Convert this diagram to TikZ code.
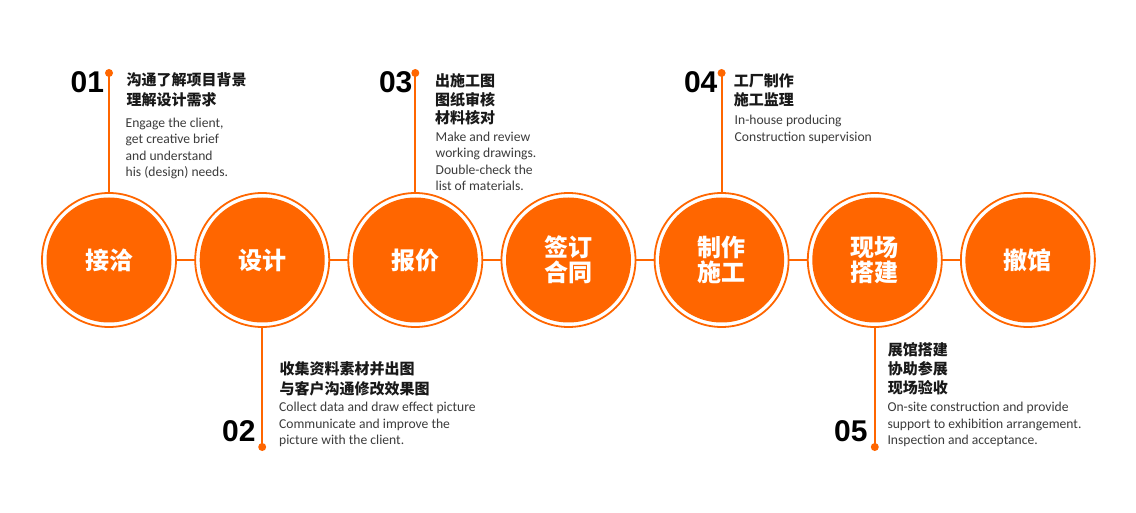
\documentclass[tikz,border=0pt]{standalone}
\usepackage{fontspec}
\setmainfont{Carlito}
\newfontfamily\cjk{Noto Sans CJK SC}
\newfontfamily\numfont{Liberation Sans}
\definecolor{org}{HTML}{FF6600}
\definecolor{txt}{HTML}{3C3C3C}
\begin{document}
\begin{tikzpicture}[x=1pt,y=-1pt,
 ring/.style={circle,draw=org,line width=1.8pt,fill=white,minimum size=134pt,inner sep=0,outer sep=0},
 disc/.style={circle,fill=org,minimum size=125pt,inner sep=0,text=white,font=\cjk\bfseries\fontsize{24}{25}\selectfont,align=center},
 link/.style={draw=org,line width=1.8pt},
 dotnode/.style={circle,fill=org,minimum size=8pt,inner sep=0},
 numtext/.style={anchor=base west,inner sep=0,font=\numfont\bfseries\fontsize{30}{30}\selectfont,text=black},
 zh/.style={anchor=west,inner sep=0,font=\cjk\bfseries\fontsize{15}{15}\selectfont,text=black!90},
 en/.style={anchor=base west,inner sep=0,font=\fontsize{13.6}{14}\selectfont,text=txt},
]
\fill[white] (0,0) rectangle (1136,513);
\useasboundingbox (0,0) rectangle (1136,513);

% circles
\node[ring] (c1) at (109,260) {};
\node[ring] (c2) at (262.2,260) {};
\node[ring] (c3) at (415.3,260) {};
\node[ring] (c4) at (568.5,260) {};
\node[ring] (c5) at (721.6,260) {};
\node[ring] (c6) at (874.8,260) {};
\node[ring] (c7) at (1027.9,260) {};
\node[disc] (f1) at (c1) {接洽};
\node[disc] (f2) at (c2) {设计};
\node[disc] (f3) at (c3) {报价};
\node[disc] (f4) at (c4) {签订\\合同};
\node[disc] (f5) at (c5) {制作\\施工};
\node[disc] (f6) at (c6) {现场\\搭建};
\node[disc] (f7) at (c7) {撤馆};

% horizontal links
\draw[link] (c1.east) -- (c2.west);
\draw[link] (c2.east) -- (c3.west);
\draw[link] (c3.east) -- (c4.west);
\draw[link] (c4.east) -- (c5.west);
\draw[link] (c5.east) -- (c6.west);
\draw[link] (c6.east) -- (c7.west);

% dots and vertical links
\node[dotnode] (d1) at (109,73) {};
\node[dotnode] (d3) at (415.3,73) {};
\node[dotnode] (d4) at (721.6,73) {};
\node[dotnode] (d2) at (262.2,447) {};
\node[dotnode] (d5) at (874.8,447) {};
\draw[link] (d1.center) -- (c1.north);
\draw[link] (d3.center) -- (c3.north);
\draw[link] (d4.center) -- (c5.north);
\draw[link] (c2.south) -- (d2.center);
\draw[link] (c6.south) -- (d5.center);

% block 01
\node[numtext] (n1) at (70.5,93) {01};
\node[zh] (z1a) at (126.5,80) {沟通了解项目背景};
\node[zh] (z1b) at (126.5,99.3) {理解设计需求};
\node[en] (e1a) at (125.5,127.5) {Engage the client,};
\node[en] (e1b) at (125.5,144) {get creative brief};
\node[en] (e1c) at (125.5,160.5) {and understand};
\node[en] (e1d) at (125.5,177) {his (design) needs.};

% block 03
\node[numtext] (n3) at (378.8,93) {03};
\node[zh] (z3a) at (435,80.7) {出施工图};
\node[zh] (z3b) at (435,99.3) {图纸审核};
\node[zh] (z3c) at (435,117.5) {材料核对};
\node[en] (e3a) at (435.5,141.5) {Make and review};
\node[en] (e3b) at (435.5,158) {working drawings.};
\node[en] (e3c) at (435.5,174.5) {Double-check the};
\node[en] (e3d) at (435.5,191) {list of materials.};

% block 04
\node[numtext] (n4) at (683.8,93) {04};
\node[zh] (z4a) at (733.6,80.7) {工厂制作};
\node[zh] (z4b) at (733.6,99.3) {施工监理};
\node[en] (e4a) at (734.5,125) {In-house producing};
\node[en] (e4b) at (734.5,141.7) {Construction supervision};

% block 02
\node[numtext] (n2) at (222,441.7) {02};
\node[zh] (z2a) at (279.3,369.3) {收集资料素材并出图};
\node[zh] (z2b) at (279.3,388.3) {与客户沟通修改效果图};
\node[en] (e2a) at (279,411.7) {Collect data and draw effect picture};
\node[en] (e2b) at (279,428) {Communicate and improve the};
\node[en] (e2c) at (279,444.3) {picture with the client.};

% block 05
\node[numtext] (n5) at (834,441.7) {05};
\node[zh] (z5a) at (887.6,349.3) {展馆搭建};
\node[zh] (z5b) at (887.6,368.3) {协助参展};
\node[zh] (z5c) at (887.6,387.3) {现场验收};
\node[en] (e5a) at (887.3,411.7) {On-site construction and provide};
\node[en] (e5b) at (887.3,428) {support to exhibition arrangement.};
\node[en] (e5c) at (887.3,444.3) {Inspection and acceptance.};
\end{tikzpicture}
\end{document}
